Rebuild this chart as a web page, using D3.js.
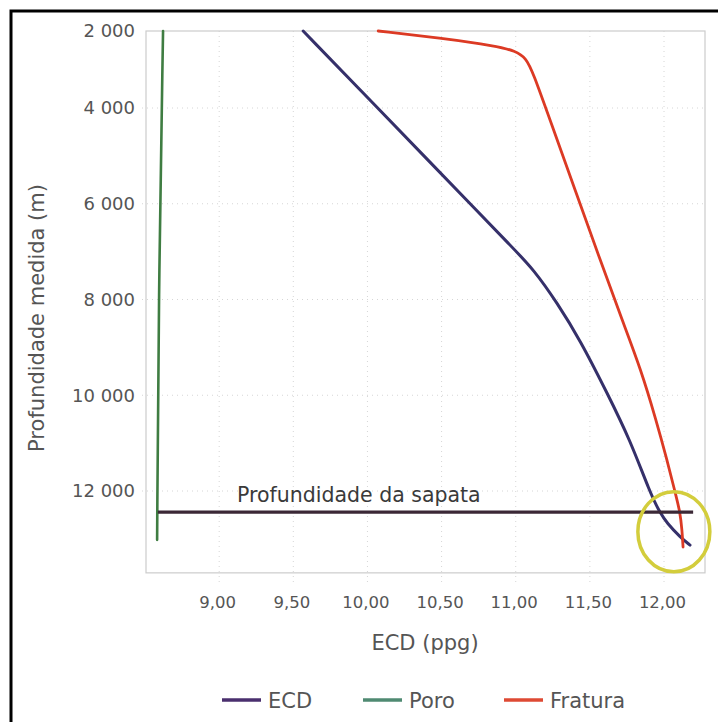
<!DOCTYPE html>
<html>
<head>
<meta charset="utf-8">
<script src="https://cdn.jsdelivr.net/npm/d3@7"></script>
<style>
    body { margin: 0; background: #fff; }
    text { font-family: "DejaVu Sans", sans-serif; }
</style>
</head>
<body>
<div id="chart"></div>
<script>
// Depth (m) and ECD (ppg)
var ecdDepth = [2000, 4000, 5086, 6131, 6862, 7384, 8073, 8846, 9953, 10935, 12042, 12460, 12669, 12962, 13129];
var ecdValue = [9.580, 10.082, 10.421, 10.747, 10.975, 11.138, 11.293, 11.448, 11.630, 11.785, 11.920, 11.987, 12.034, 12.122, 12.189];

var fraturaDepth = [2000, 2182, 2390, 2519, 2701, 3091, 4251, 5713, 7175, 8428, 9473, 10517, 11353, 12021, 12439, 12815, 13170];
var fraturaValue = [10.086, 10.504, 10.888, 11.009, 11.084, 11.131, 11.245, 11.414, 11.583, 11.731, 11.859, 11.960, 12.034, 12.088, 12.122, 12.135, 12.142];

var poroDepth = [2000, 8000, 13020];
var poroValue = [8.635, 8.605, 8.595];

var sapataDepth = 12440;
var sapataRange = [8.60, 12.21];
var circleCenter = [12.08, 12850];

var xTicks = [9.0, 9.5, 10.0, 10.5, 11.0, 11.5, 12.0];
var yTicks = [2000, 4000, 6000, 8000, 10000, 12000];
var legendNames = ["ECD", "Poro", "Fratura"];

DepthChart = function(_parentElement) {
    this.parentElement = _parentElement;
    this.initVis();
}

DepthChart.prototype.initVis = function() {
    var vis = this;

    vis.width = 718;
    vis.height = 722;
    vis.colors = { ECD: "#35306a", Poro: "#3f7d42", Fratura: "#dc3a24" };
    vis.legendColors = { ECD: "#4a2f6e", Poro: "#4f8a72", Fratura: "#de4a34" };

    vis.svg = d3.select("#" + vis.parentElement).append("svg")
        .attr("width", vis.width)
        .attr("height", vis.height);

    // scanned frame: only left and top edges are visible
    vis.svg.append("path")
        .attr("d", "M11,722V11H718")
        .attr("fill", "none")
        .attr("stroke", "#000")
        .attr("stroke-width", 3);

    vis.x = d3.scaleLinear().domain([8.52, 12.29]).range([146, 705]);
    // the printed axis is not evenly spaced at the top
    vis.y = d3.scaleLinear().domain([2000, 4000, 12000]).range([31, 108, 491]);

    vis.top = vis.y(2000);
    vis.bottom = vis.y(13710);
    vis.left = vis.x.range()[0];
    vis.right = vis.x.range()[1];

    // dotted grid
    vis.svg.append("g").selectAll("line.vg")
        .data(xTicks)
        .enter().append("line")
        .attr("x1", d => vis.x(d) + 2).attr("x2", d => vis.x(d) + 2)
        .attr("y1", vis.top).attr("y2", vis.bottom + 10)
        .attr("stroke", "#d6d6d6")
        .attr("stroke-dasharray", "1,4");

    vis.svg.append("g").selectAll("line.hg")
        .data(yTicks.slice(1))
        .enter().append("line")
        .attr("x1", vis.left - 4).attr("x2", vis.right)
        .attr("y1", d => vis.y(d)).attr("y2", d => vis.y(d))
        .attr("stroke", "#d6d6d6")
        .attr("stroke-dasharray", "1,4");

    // plot frame
    vis.svg.append("rect")
        .attr("x", vis.left).attr("y", vis.top)
        .attr("width", vis.right - vis.left)
        .attr("height", vis.bottom - vis.top)
        .attr("fill", "none")
        .attr("stroke", "#cccccc")
        .attr("stroke-width", 1.2);

    // axes
    vis.xAxis = d3.axisBottom(vis.x)
        .tickValues(xTicks)
        .tickSize(0)
        .tickPadding(23)
        .tickFormat(d => d.toFixed(2).replace(".", ","));

    vis.yAxis = d3.axisLeft(vis.y)
        .tickValues(yTicks)
        .tickSize(0)
        .tickPadding(11)
        .tickFormat(d => d3.format(",")(d).replace(",", " "));

    vis.svg.append("g")
        .attr("transform", "translate(0," + vis.bottom + ")")
        .call(vis.xAxis)
        .call(g => g.select(".domain").remove())
        .selectAll("text")
        .style("font-family", "DejaVu Sans")
        .style("font-size", "16.5px")
        .attr("fill", "#555");

    vis.svg.append("g")
        .attr("transform", "translate(" + vis.left + ",0)")
        .call(vis.yAxis)
        .call(g => g.select(".domain").remove())
        .selectAll("text")
        .style("font-family", "DejaVu Sans")
        .style("font-size", "18px")
        .attr("fill", "#555");

    vis.svg.append("text")
        .attr("x", 425)
        .attr("y", 650)
        .attr("text-anchor", "middle")
        .style("font-size", "21px")
        .attr("fill", "#555")
        .text("ECD (ppg)");

    vis.svg.append("text")
        .attr("transform", "translate(44,318) rotate(-90)")
        .attr("text-anchor", "middle")
        .style("font-size", "21px")
        .attr("fill", "#555")
        .text("Profundidade medida (m)");

    // smooth curves, like the spreadsheet's smoothed lines
    vis.line = d3.line()
        .x(d => vis.x(d.value))
        .y(d => vis.y(d.depth))
        .curve(d3.curveBasis);

    vis.wrangleData();
}

DepthChart.prototype.wrangleData = function() {
    var vis = this;

    function zip(depths, values) {
        return depths.map((d, i) => ({ depth: d, value: values[i] }));
    }

    vis.series = [
        { name: "Poro", points: zip(poroDepth, poroValue), width: 2.6 },
        { name: "ECD", points: zip(ecdDepth, ecdValue), width: 3 },
        { name: "Fratura", points: zip(fraturaDepth, fraturaValue), width: 2.8 }
    ];

    vis.updateVis();
}

DepthChart.prototype.updateVis = function() {
    var vis = this;

    vis.svg.append("g").selectAll("path")
        .data(vis.series)
        .enter().append("path")
        .attr("d", d => vis.line(d.points))
        .attr("fill", "none")
        .attr("stroke", d => vis.colors[d.name])
        .attr("stroke-width", d => d.width)
        .attr("stroke-linecap", "round")
        .attr("stroke-linejoin", "round");

    // casing shoe depth
    vis.svg.append("line")
        .attr("x1", vis.x(sapataRange[0]))
        .attr("x2", vis.x(sapataRange[1]))
        .attr("y1", vis.y(sapataDepth))
        .attr("y2", vis.y(sapataDepth))
        .attr("stroke", "#3b2836")
        .attr("stroke-width", 3.2);

    vis.svg.append("text")
        .attr("x", 237)
        .attr("y", vis.y(sapataDepth) - 10)
        .style("font-size", "20.5px")
        .attr("fill", "#3a3a3a")
        .text("Profundidade da sapata");

    // highlight circle
    vis.svg.append("ellipse")
        .attr("cx", vis.x(circleCenter[0]))
        .attr("cy", vis.y(circleCenter[1]))
        .attr("rx", 36)
        .attr("ry", 40)
        .attr("fill", "none")
        .attr("stroke", "#d3cd3c")
        .attr("stroke-width", 3.5);

    // legend
    var legendX = [222, 363, 504];
    var legend = vis.svg.append("g").selectAll("g")
        .data(legendNames)
        .enter().append("g")
        .attr("transform", (d, i) => "translate(" + legendX[i] + ",700)");

    legend.append("line")
        .attr("x1", 0).attr("x2", 39)
        .attr("stroke", d => vis.legendColors[d])
        .attr("stroke-width", 3.5);

    legend.append("text")
        .attr("x", 46)
        .attr("y", 8)
        .style("font-size", "21px")
        .attr("fill", "#555")
        .text(d => d);
}

var chart = new DepthChart("chart");
</script>
</body>
</html>
